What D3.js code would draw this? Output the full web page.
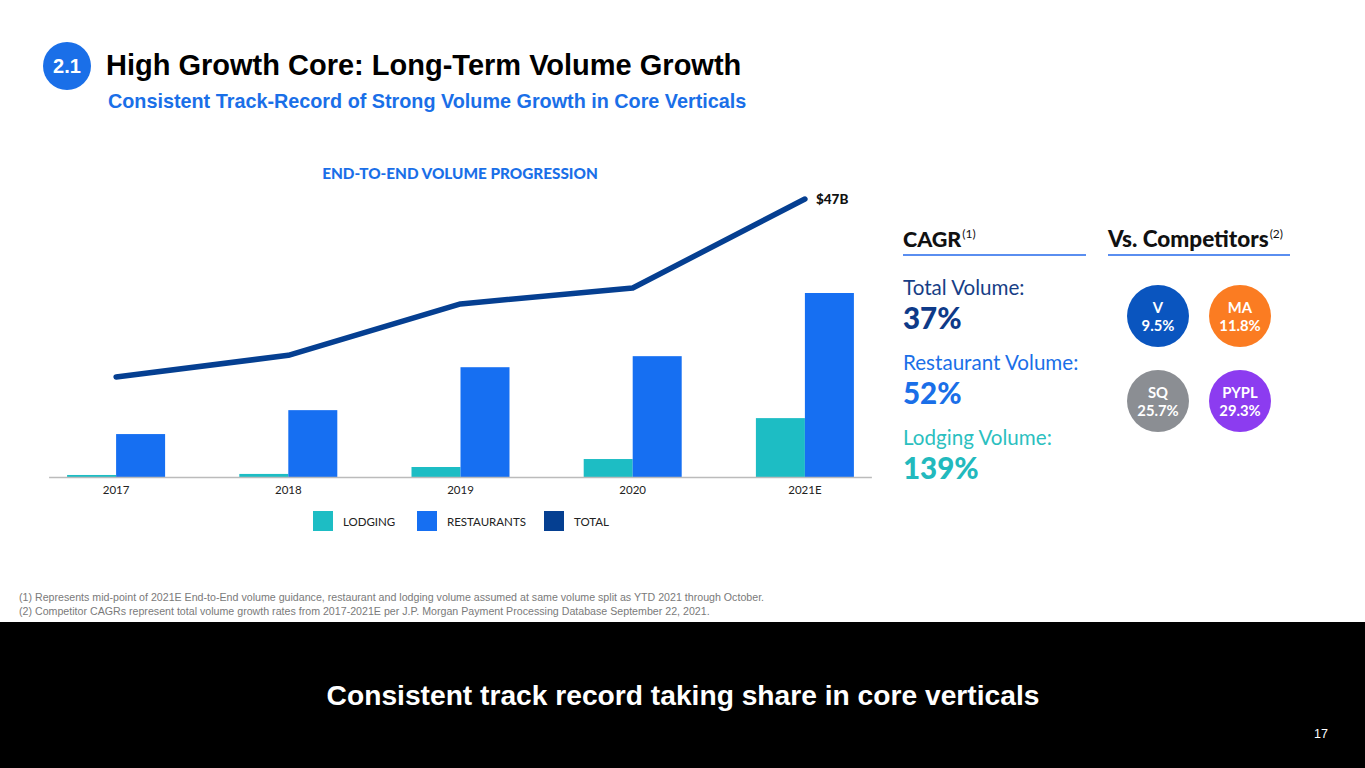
<!DOCTYPE html>
<html><head><meta charset="utf-8">
<script src="https://cdn.jsdelivr.net/npm/d3@7"></script>
<style>
html,body{margin:0;padding:0;background:#fff;}
svg{display:block;}
</style></head>
<body>
<script>
// ---- data ----
const years = ["2017","2018","2019","2020","2021E"];
const lodging = [0.33, 0.5, 1.63, 2.93, 9.6];        // $B (est.)
const restaurants = [7.0, 10.9, 17.9, 19.7, 30.0];    // $B (est.)
const total = [13.4, 17.5, 27.2, 30.2, 47];           // $B (est.)
const seriesNames = ["LODGING","RESTAURANTS","TOTAL"];
const cagrLabels = ["Total Volume:","Restaurant Volume:","Lodging Volume:"];
const cagrValues = ["37%","52%","139%"];
const competitors = ["V","MA","SQ","PYPL"];
const competitorCagr = ["9.5%","11.8%","25.7%","29.3%"];

const C = {lod:"#1dbdc4", rest:"#166ff2", tot:"#053f91", blue:"#1a6fe8"};
const compColors = ["#0a55bf","#fb7c22","#8b8e93","#8c3cf0"];
const F = "Lato, 'Open Sans', sans-serif";
const A = "'Liberation Sans', Arial, sans-serif";

const W = 1365, H = 768;
const svg = d3.select("body").append("svg").attr("width", W).attr("height", H);

// header
svg.append("circle").attr("cx",67).attr("cy",66).attr("r",24).attr("fill",C.blue);
svg.append("text").attr("x",67).attr("y",73).attr("text-anchor","middle")
  .attr("font-family",A).attr("font-weight","bold").attr("font-size",20).attr("fill","#fff").text("2.1");
svg.append("text").attr("x",106).attr("y",75).attr("font-family",A).attr("font-weight","bold")
  .attr("font-size",29).attr("fill","#000").text("High Growth Core: Long-Term Volume Growth");
svg.append("text").attr("x",108).attr("y",108).attr("font-family",A).attr("font-weight","bold")
  .attr("font-size",19.8).attr("fill",C.blue).text("Consistent Track-Record of Strong Volume Growth in Core Verticals");

// chart title
svg.append("text").attr("x",460).attr("y",179).attr("text-anchor","middle").attr("font-family",F)
  .attr("font-weight","900").attr("font-size",15.3).attr("fill",C.blue).text("END-TO-END VOLUME PROGRESSION");

// scales
const x = d3.scaleBand().domain(years).range([30, 891]).paddingInner(0).paddingOuter(0);
const cx = d => x(d) + x.bandwidth()/2;
const bw = 49;
const yBar = d3.scaleLinear().domain([0, 30]).range([477, 293]);
const yLine = d3.scaleLinear().domain([0, 47]).range([448, 199]);

const g = svg.append("g");
// bars
g.selectAll("rect.lod").data(years).join("rect").attr("class","lod")
  .attr("x", d => cx(d) - bw).attr("width", bw)
  .attr("y", (d,i) => yBar(lodging[i])).attr("height", (d,i) => yBar(0) - yBar(lodging[i]))
  .attr("fill", C.lod);
g.selectAll("rect.rest").data(years).join("rect").attr("class","rest")
  .attr("x", d => cx(d)).attr("width", bw)
  .attr("y", (d,i) => yBar(restaurants[i])).attr("height", (d,i) => yBar(0) - yBar(restaurants[i]))
  .attr("fill", C.rest);

// axis
const ax = svg.append("g").attr("transform",`translate(0,${yBar(0)})`)
  .call(d3.axisBottom(x).tickSize(0).tickPadding(9));
ax.select(".domain").remove();
ax.selectAll("text").attr("font-family",F).attr("font-size",11.5).attr("fill","#222");
svg.append("line").attr("x1", cx(years[0]) - 67).attr("x2", cx(years[years.length-1]) + 67)
  .attr("y1", yBar(0)+0.5).attr("y2", yBar(0)+0.5).attr("stroke","#bbb").attr("stroke-width",1.5);

// total line
const line = d3.line().x((d,i) => cx(years[i])).y(d => yLine(d));
svg.append("path").datum(total).attr("d", line).attr("fill","none")
  .attr("stroke", C.tot).attr("stroke-width",5.5).attr("stroke-linecap","round").attr("stroke-linejoin","round");
svg.append("text").attr("x", cx(years[4]) + 11).attr("y", yLine(total[4]) + 4.5)
  .attr("font-family",F).attr("font-weight","900").attr("font-size",13.5).attr("fill","#111")
  .text("$" + total[4] + "B");

// legend
const legX = [313, 417, 544];
const legC = [C.lod, C.rest, C.tot];
seriesNames.forEach((n,i) => {
  svg.append("rect").attr("x",legX[i]).attr("y",511).attr("width",20).attr("height",20).attr("fill",legC[i]);
  svg.append("text").attr("x",legX[i]+30).attr("y",525.5).attr("font-family",F).attr("font-size",11.5)
    .attr("fill","#222").text(n);
});

// right panel
function header(xp, label, sup, w, fs){
  const t = svg.append("text").attr("x",xp).attr("y",247).attr("font-family",F).attr("font-weight","900")
    .attr("font-size",fs).attr("fill","#111");
  t.append("tspan").text(label);
  t.append("tspan").attr("font-size",12).attr("font-weight","normal").attr("dx",1).attr("dy",-9).text(sup);
  svg.append("line").attr("x1",xp).attr("x2",xp+w).attr("y1",255).attr("y2",255)
    .attr("stroke","#5a8ef0").attr("stroke-width",2);
}
header(903,"CAGR","(1)",183,21.5);
header(1108,"Vs. Competitors","(2)",182,22.5);

const cagrColors = ["#173e86", C.blue, "#2bbfc0"];
const cagrValColors = ["#0e3a88", "#1a6fe8", "#22b9bd"];
cagrLabels.forEach((l,i) => {
  const y0 = 295 + i*75;
  svg.append("text").attr("x",903).attr("y",y0).attr("font-family",F).attr("font-size",20.6)
    .attr("fill",cagrColors[i]).text(l);
  svg.append("text").attr("x",903).attr("y",y0+34).attr("font-family",F).attr("font-weight","900")
    .attr("font-size",29.5).attr("fill",cagrValColors[i]).text(cagrValues[i]);
});

const compPos = [[1158,316],[1240,316],[1158,401],[1240,401]];
competitors.forEach((c,i) => {
  const [px,py] = compPos[i];
  svg.append("circle").attr("cx",px).attr("cy",py).attr("r",31).attr("fill",compColors[i]);
  svg.append("text").attr("x",px).attr("y",py-3).attr("text-anchor","middle").attr("font-family",F)
    .attr("font-weight","bold").attr("font-size",14.8).attr("fill","#fff").text(c);
  svg.append("text").attr("x",px).attr("y",py+14.5).attr("text-anchor","middle").attr("font-family",F)
    .attr("font-weight","bold").attr("font-size",14.8).attr("fill","#fff").text(competitorCagr[i]);
});

// footnotes
svg.append("text").attr("x",19).attr("y",601).attr("font-family",A).attr("font-size",10.65).attr("fill","#7a7a7a")
  .text("(1) Represents mid-point of 2021E End-to-End volume guidance, restaurant and lodging volume assumed at same volume split as YTD 2021 through October.");
svg.append("text").attr("x",19).attr("y",615).attr("font-family",A).attr("font-size",10.65).attr("fill","#7a7a7a")
  .text("(2) Competitor CAGRs represent total volume growth rates from 2017-2021E per J.P. Morgan Payment Processing Database September 22, 2021.");

// bottom band
svg.append("rect").attr("x",0).attr("y",622).attr("width",W).attr("height",H-622).attr("fill","#000");
svg.append("text").attr("x",683).attr("y",705).attr("text-anchor","middle").attr("font-family",A)
  .attr("font-weight","bold").attr("font-size",28.2).attr("fill","#fff")
  .text("Consistent track record taking share in core verticals");
svg.append("text").attr("x",1328).attr("y",738).attr("text-anchor","end").attr("font-family",A)
  .attr("font-size",12.5).attr("fill","#fff").text("17");
</script>
</body></html>
